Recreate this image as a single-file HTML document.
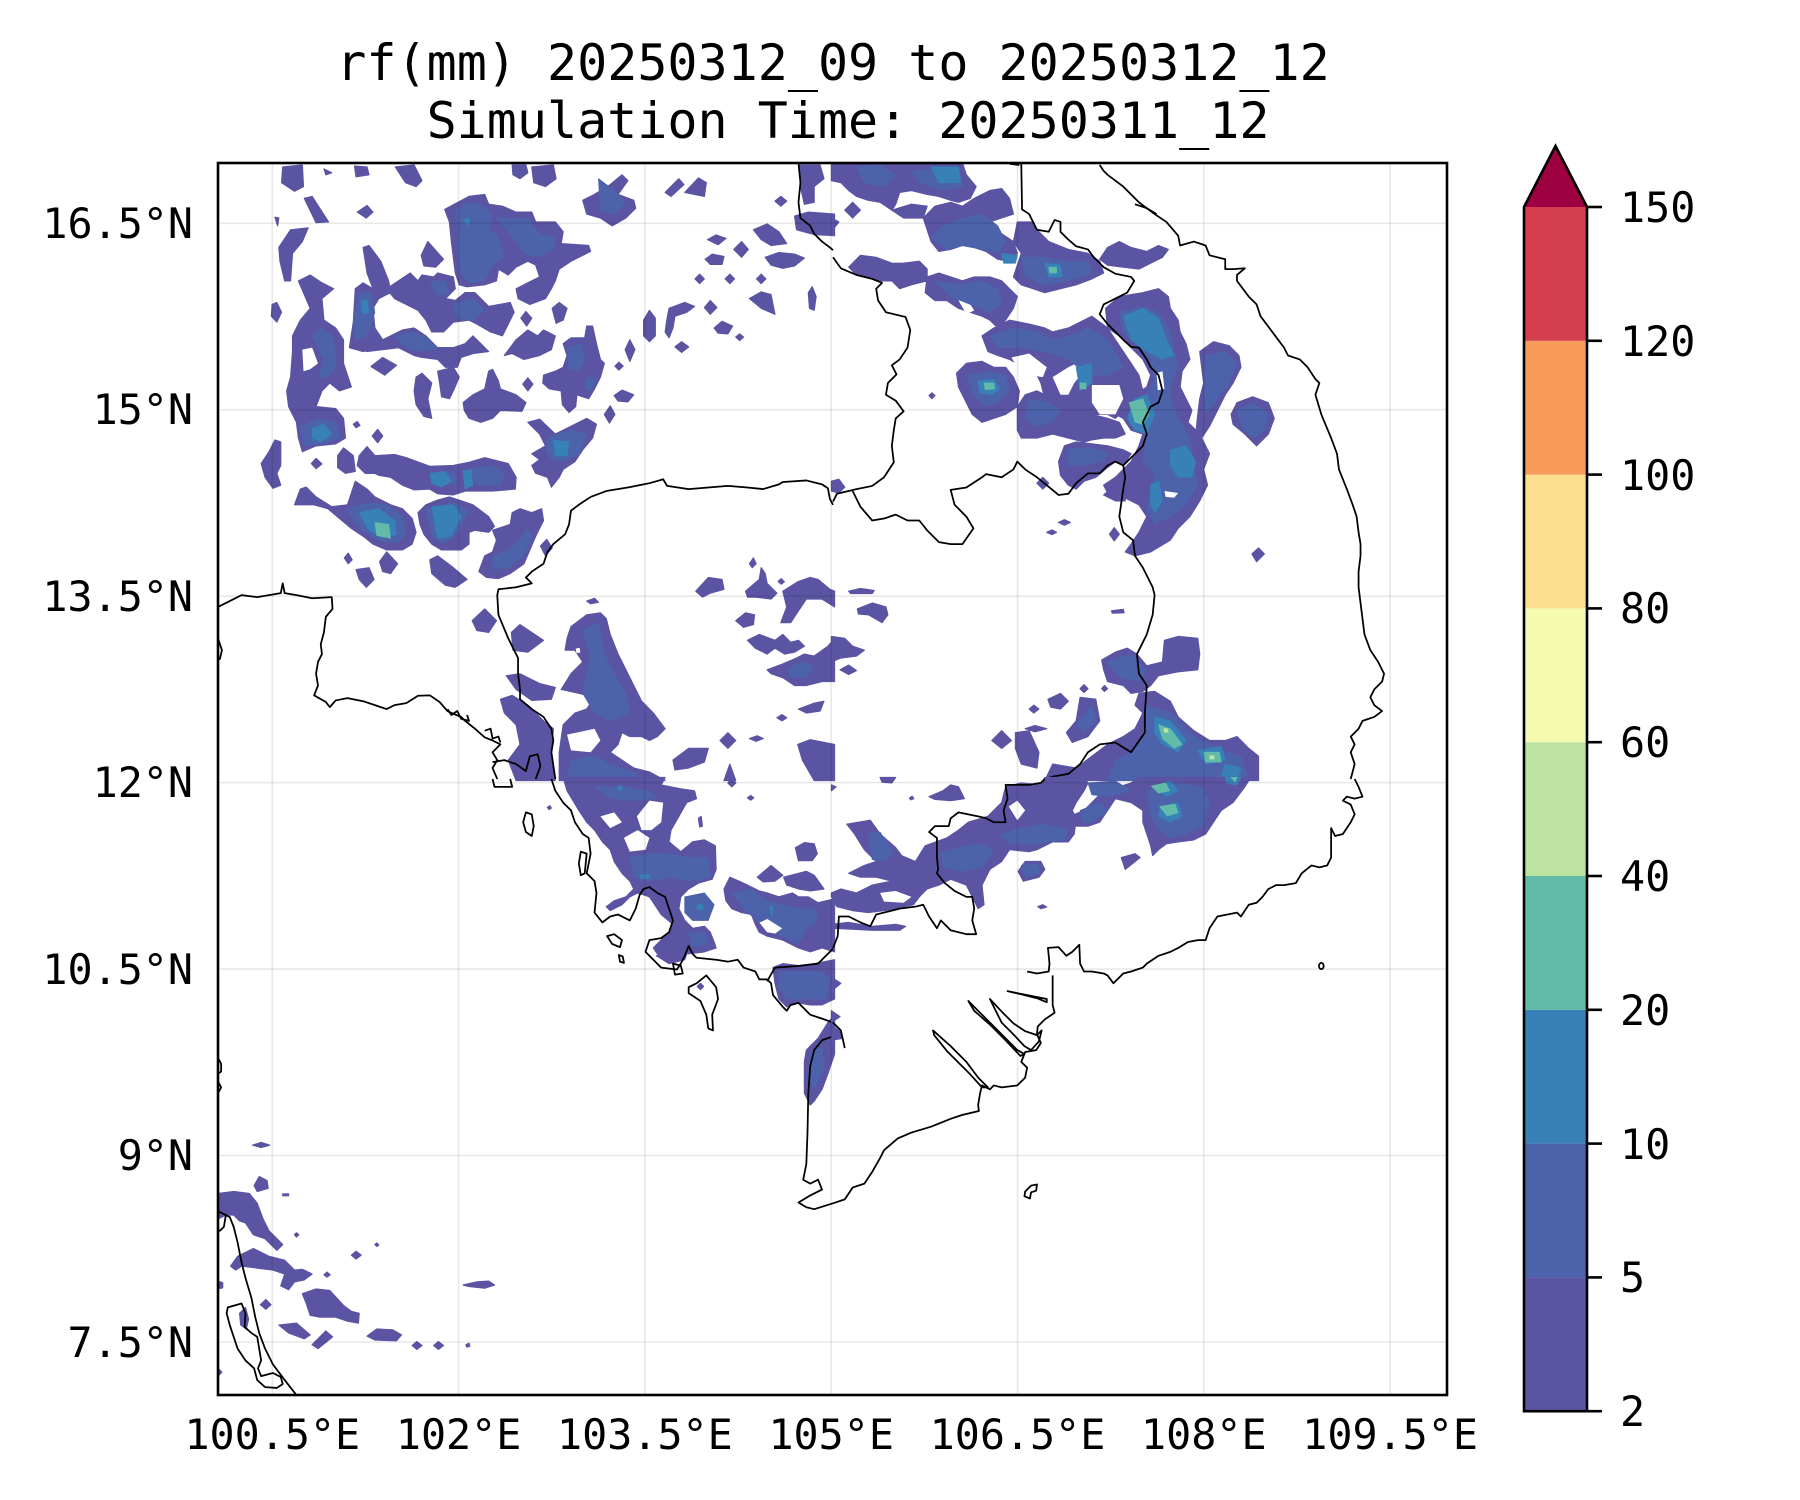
<!DOCTYPE html>
<html>
<head>
<meta charset="utf-8">
<style>
html,body{margin:0;padding:0;background:#fff;}
svg{display:block;}
text{font-family:"DejaVu Sans Mono","Liberation Mono",monospace;fill:#000;}
.f1{fill:#5b54a3;stroke:#5b54a3;stroke-width:3;stroke-linejoin:round;}
.f2{fill:#4c62aa;stroke:#4c62aa;stroke-width:2;stroke-linejoin:round;}
.f3{fill:#3880b8;stroke:#3880b8;stroke-width:2;stroke-linejoin:round;}
.f4{fill:#62bba8;stroke:#62bba8;stroke-width:2;stroke-linejoin:round;}
.f5{fill:#bce3a0;}
.fw{fill:#fff;}
</style>
</head>
<body>
<svg width="1800" height="1500" viewBox="0 0 1800 1500" xmlns="http://www.w3.org/2000/svg">
<defs>
<clipPath id="pc"><rect x="218" y="163" width="1229" height="1232"/></clipPath>
</defs>
<rect x="0" y="0" width="1800" height="1500" fill="#fff"/>

<!-- Title -->
<text x="833" y="80" font-size="50" text-anchor="middle">rf(mm) 20250312_09 to 20250312_12</text>
<text x="848" y="138" font-size="50" text-anchor="middle">Simulation Time: 20250311_12</text>

<g clip-path="url(#pc)">
<!-- Q1 NW -->
<g transform="translate(218,163) scale(0.39222,0.39286)">
<path class="f1" d="M165,10 215,5 218,60 195,72 162,50Z M348,8 380,10 385,30 352,35Z M452,10 500,5 520,45 505,60 478,50Z M750,5 785,5 790,25 770,40 752,30Z M800,10 855,5 862,40 835,60 805,50Z M220,90 240,85 282,150 250,152Z M355,125 380,108 395,125 378,140Z M145,138 155,140 152,160Z M270,15 290,25 275,30Z
M930,95 960,80 1000,55 1030,30 1045,45 1020,80 1060,95 1065,115 1040,140 1005,160 975,140 940,130Z M1140,75 1175,40 1188,55 1155,85Z M1190,75 1225,38 1245,50 1240,85Z M1420,97 1435,85 1450,97 1435,110Z M1482,5 1535,5 1545,40 1520,60 1520,100 1495,105 1485,60Z M1470,135 1505,125 1572,130 1572,185 1520,182 1475,170Z M1365,170 1400,155 1430,175 1450,205 1410,210 1385,195Z M1248,195 1270,183 1295,192 1275,208Z M1315,220 1335,200 1352,220 1335,240Z M1242,245 1260,232 1290,238 1285,258 1255,258Z M1395,240 1430,228 1470,232 1495,242 1470,262 1440,268 1410,260Z
M1216,295 1228,283 1240,295 1228,307Z M1293,295 1305,283 1317,295 1305,307Z M1373,295 1385,283 1397,295 1385,307Z M1355,345 1385,328 1410,335 1420,385 1385,370Z M1505,330 1515,315 1525,340 1520,375 1508,370Z M1240,368 1255,350 1272,368 1255,385Z M1150,370 1190,355 1215,365 1195,380 1165,390 1160,420 1150,445 1140,430 1145,395Z M1085,400 1100,375 1115,395 1115,440 1100,455 1085,440Z M1265,420 1285,403 1312,415 1300,435 1275,433Z M1320,443 1330,435 1340,443 1330,452Z M1165,468 1182,455 1200,468 1182,482Z M1038,475 1050,450 1063,475 1050,505Z M1012,517 1022,507 1033,517 1022,527Z M1010,592 1030,578 1060,590 1045,608 1020,606Z M985,640 1000,618 1012,640 998,662Z
M790,660 820,652 860,690 900,670 940,650 965,665 955,700 930,730 910,760 880,780 870,800 850,825 840,800 810,790 800,770 820,755 800,740 835,720 820,690Z
M155,215 185,170 230,165 215,200 190,230 185,300 170,300 158,250Z
M205,300 235,285 265,305 295,320 265,345 270,400 300,420 320,450 320,510 340,570 310,580 285,560 265,580 250,620 300,625 320,650 325,700 300,715 250,720 215,735 205,700 200,660 180,620 175,580 185,545 190,480 190,440 210,400 235,370 220,335Z
M138,360 150,355 162,380 150,405 136,390Z M110,765 130,735 145,705 160,710 160,770 150,790 160,820 140,828 120,800Z M238,765 250,752 265,766 250,778Z
M335,470 345,405 350,320 370,305 395,320 380,280 370,215 385,210 415,250 435,300 440,330 410,345 395,370 400,420 420,450 400,470 370,480Z
M430,320 460,300 490,280 510,300 520,285 550,290 560,280 580,285 600,290 605,320 580,345 605,350 630,330 655,330 690,365 745,355 755,380 725,440 695,430 660,410 640,400 600,405 575,430 545,430 530,400 510,375 480,360 450,345Z
M345,470 420,450 470,425 500,420 530,440 560,470 600,470 630,460 650,440 670,460 690,480 650,485 620,495 610,520 580,520 560,500 520,495 500,490 460,470 420,475 380,480Z
M390,518 420,495 455,515 425,540Z
M505,545 520,535 545,560 535,600 545,650 525,645 505,615 500,580Z M560,530 600,520 615,545 600,580 590,600 570,595 565,560Z
M625,610 650,590 680,575 690,530 700,525 715,555 720,575 760,590 785,610 775,632 720,630 700,650 670,660 640,650 628,630Z
M518,235 535,200 575,245 555,265 525,262Z
M578,118 640,85 680,80 690,105 725,110 760,125 800,125 810,150 860,150 880,175 875,205 945,210 950,225 900,250 870,270 860,300 850,320 835,345 795,360 765,345 760,320 790,305 820,290 810,260 790,250 760,265 740,285 715,270 710,300 680,310 635,315 615,310 605,280 600,240 595,200 590,150Z
M730,490 760,450 790,425 815,440 830,425 860,440 850,475 820,490 780,500 750,485Z M772,395 785,378 800,395 787,415Z M852,370 870,355 890,370 880,400 862,408Z
M880,460 900,445 935,445 940,415 955,415 965,460 975,500 985,510 975,545 960,575 945,600 915,590 912,620 895,635 878,615 875,580 845,575 828,560 830,540 860,530 880,520 890,490Z
M777,563 790,547 803,563 790,580Z M393,695 407,678 420,695 407,712Z M345,665 355,658 362,668 352,674Z M305,745 320,725 345,745 350,785 325,790 305,775Z
M360,745 380,722 400,745 450,742 480,750 540,772 600,770 640,762 680,750 740,765 760,800 758,830 700,835 660,835 630,835 600,845 560,842 540,830 500,832 470,820 440,800 410,795 400,790 375,790 355,770Z
M195,870 210,830 225,825 250,850 290,875 330,870 340,840 350,810 380,830 400,850 440,870 470,880 495,905 505,940 495,970 470,985 430,985 395,970 370,950 340,930 310,905 280,880 245,870Z
M510,890 530,870 560,858 590,850 620,860 650,870 690,900 705,925 690,940 655,935 640,940 640,970 620,985 570,985 545,970 525,945 515,920Z
M665,1040 680,1000 700,990 710,960 700,935 715,930 745,920 750,890 770,880 800,890 825,880 830,910 810,950 795,985 780,1020 745,1045 715,1058 685,1055Z
M540,1010 560,1000 600,1030 635,1060 605,1080 580,1075 545,1045Z M412,1015 430,990 458,1020 440,1045 420,1040Z M352,1035 385,1030 398,1060 378,1080 360,1060Z M322,1005 332,993 342,1010 332,1020Z M822,975 838,958 852,980 835,1000Z
M648,1165 680,1135 710,1165 690,1195 660,1190Z M748,1195 770,1175 830,1215 790,1245 752,1240Z M940,1115 960,1108 970,1118 950,1122Z
M900,1180 940,1150 975,1145 990,1160 1000,1200 1020,1250 1040,1290 1060,1330 1080,1370 1110,1400 1140,1440 1120,1460 1100,1470 1080,1460 1050,1460 1030,1450 1020,1480 1000,1500 1030,1520 1060,1540 1100,1550 1140,1572 870,1572 870,1500 880,1430 910,1400 940,1390 960,1360 920,1350 875,1340 900,1300 930,1270 910,1240 885,1240 890,1210Z
M735,1305 770,1300 820,1325 860,1335 850,1365 800,1368 760,1340Z
M720,1365 750,1355 790,1380 830,1420 855,1440 850,1500 860,1572 760,1572 740,1520 770,1480 760,1430 730,1400Z
M1160,1520 1200,1490 1250,1490 1240,1525 1200,1540 1165,1545Z M1280,1470 1300,1450 1320,1470 1300,1490Z M1355,1465 1375,1458 1390,1465 1372,1472Z M1425,1412 1438,1404 1450,1412 1438,1420Z M1480,1390 1520,1375 1545,1370 1535,1395 1500,1400Z M1478,1480 1510,1468 1572,1480 1572,1572 1520,1572 1490,1520Z M1290,1572 1305,1530 1320,1572Z
M1218,1090 1250,1055 1285,1060 1290,1085 1255,1095 1235,1105Z M1320,1165 1345,1145 1368,1150 1365,1175 1340,1182Z M1345,1090 1380,1060 1385,1030 1395,1045 1400,1070 1425,1095 1410,1110 1370,1105 1350,1105Z M1355,1020 1365,1005 1372,1020 1362,1030Z
M1440,1090 1480,1065 1510,1055 1530,1060 1560,1085 1572,1090 1572,1130 1540,1110 1500,1110 1480,1140 1460,1170 1435,1170 1450,1130Z
M1350,1215 1380,1200 1420,1215 1440,1200 1460,1220 1480,1215 1495,1230 1470,1245 1445,1250 1420,1235 1400,1250 1370,1235Z
M1400,1290 1440,1275 1475,1260 1495,1250 1520,1255 1555,1230 1572,1210 1572,1320 1540,1320 1500,1330 1470,1330 1440,1310 1410,1300Z M1428,1065 1436,1058 1444,1066 1436,1072Z"/>
<path class="fw" d="M660,140 680,138 692,175 665,188Z M215,475 240,470 255,510 235,525 218,530Z M890,1455 960,1440 975,1470 950,1500 900,1495Z M912,1236 922,1234 924,1246 914,1248Z"/>
<path class="f2" d="M605,120 640,100 680,110 700,140 690,170 710,180 730,240 700,260 680,300 640,305 620,280 610,230 610,170Z M710,140 790,140 820,180 860,190 855,220 820,240 780,230 760,200Z M360,330 390,330 400,380 380,440 350,450 345,400Z M450,440 500,430 540,450 560,470 520,480 480,470Z M540,300 580,300 590,330 560,340Z M600,360 650,345 680,375 650,400 610,395Z M240,440 260,420 290,440 300,480 300,520 280,545 255,545 270,500 250,460Z M210,670 260,650 300,660 310,700 260,715 220,720Z M840,700 900,680 940,690 920,740 880,760 850,755 835,730Z M890,470 925,460 935,500 920,530 895,525Z M940,545 965,550 950,580 935,575Z M330,880 380,865 430,870 470,900 480,940 460,965 430,965 400,955 370,935 345,910Z M530,880 600,865 640,885 620,920 600,955 570,970 545,950Z M700,1000 740,985 770,960 790,930 800,950 780,1000 740,1030 700,1035Z M640,780 700,770 730,790 720,820 660,820Z M540,790 600,785 610,815 560,820Z M930,1190 970,1170 985,1250 1010,1300 1040,1350 1050,1400 1000,1420 960,1400 930,1350 940,1300 950,1250Z M900,1520 960,1510 1000,1530 1060,1550 1080,1572 890,1572Z M970,40 1010,70 1040,100 1010,130 975,120Z M1455,1285 1490,1270 1520,1280 1500,1310 1460,1310Z"/>
<path class="f3" d="M240,675 270,665 290,690 260,710 240,700Z M360,890 410,880 450,910 455,945 420,955 385,935Z M545,875 600,870 620,900 595,950 560,955Z M855,705 895,710 890,745 860,745Z M540,790 580,785 595,810 570,825 545,815Z M625,785 645,780 650,820 630,830Z M625,145 640,140 640,160Z M365,350 380,350 385,380 370,385Z"/>
<path class="f4" d="M400,915 435,920 440,955 405,948Z"/>
<g fill="none" stroke="#000" stroke-width="4.5" stroke-linejoin="round">
<path d="M1480,0 1485,50 1480,100 1485,140 1510,160 1520,180 1540,200 1560,215 1568,222"/>
<path d="M1568,870 1560,855 1555,828 1540,818 1500,808 1470,810 1440,812 1430,818 1390,830 1350,826 1300,822 1250,826 1200,830 1145,822 1135,805 1125,808 1100,815 1050,825 990,835 950,850 920,870 900,885 895,920 885,945 855,970 840,990 830,1020 800,1040 785,1055 800,1070 760,1080 715,1085 712,1100 715,1150 740,1210 765,1260 765,1300 770,1340 770,1365 800,1390 830,1410 850,1440 855,1470 850,1500 860,1568"/>
<path d="M0,1130 30,1115 60,1100 100,1105 130,1100 160,1095 165,1070 170,1095 200,1100 240,1108 290,1105 292,1135 275,1155 270,1195 262,1225 265,1250 255,1270 250,1300 255,1330 245,1355 275,1372 285,1385 300,1368 330,1362 370,1370 400,1380 430,1390 450,1380 480,1375 510,1356 540,1355 565,1372 585,1395 600,1402 620,1410 630,1420 655,1440 680,1462 700,1470 720,1480 700,1500 712,1520 700,1540 712,1568"/>
<path d="M585,1390 595,1405 610,1395 620,1415 640,1420 635,1405 M680,1445 695,1440 700,1465 715,1460 720,1475"/>
<path d="M700,1525 730,1520 760,1530 785,1548 795,1510 815,1505 822,1535 810,1568"/>
<path d="M0,1210 10,1240 5,1262 0,1265"/>
</g>
</g>

<!-- Q2 NE -->
<g transform="translate(833,163) scale(0.39222,0.39286)">
<path class="f1" d="M-4,0 330,0 340,30 365,60 350,90 320,100 300,95 270,85 240,80 200,70 170,75 160,105 150,120 120,100 90,95 60,85 40,70 20,50 -4,45Z M150,120 200,105 240,110 230,140 180,140Z M30,120 50,100 70,120 50,140Z M-4,140 15,150 -4,175Z
M230,140 260,110 300,100 330,110 360,90 400,70 430,65 450,90 460,130 430,140 400,150 430,180 460,200 470,230 450,250 420,245 390,225 360,215 330,210 300,220 270,225 250,200 240,170Z
M470,150 510,150 520,170 550,200 600,220 650,230 680,250 690,280 660,295 620,310 580,320 540,330 510,320 480,310 460,290 470,260 480,230 460,200Z
M680,245 700,215 730,200 760,215 800,225 830,210 855,220 840,240 800,260 780,270 740,265 700,260Z
M40,265 70,235 110,240 150,255 180,255 220,250 240,270 240,300 200,310 170,320 150,300 120,300 90,290 60,285Z
M235,330 240,290 270,280 300,290 330,300 360,290 400,290 430,300 450,320 470,340 460,370 440,400 420,420 400,400 380,390 350,380 320,370 290,350 260,350Z
M380,440 410,420 450,400 500,410 540,420 560,430 600,420 640,400 660,390 700,420 720,450 740,480 760,510 780,540 790,580 760,600 740,630 720,650 700,640 670,640 640,660 600,650 580,640 560,610 540,600 530,560 520,540 490,530 470,510 450,500 420,490 395,480Z
M315,535 340,510 380,505 410,520 440,520 460,545 475,580 470,620 440,640 410,650 380,660 355,640 335,600 320,570Z
M470,620 490,590 520,580 560,600 590,620 620,640 660,640 700,650 730,660 745,690 720,700 690,700 660,705 640,710 600,700 560,690 520,700 480,700 470,680Z
M575,760 590,720 620,710 660,715 700,720 740,730 760,740 740,770 720,760 700,775 670,800 640,810 620,830 600,820 580,795Z
M690,845 720,820 745,810 745,860 720,860Z
M695,370 730,340 790,330 830,320 855,340 860,370 880,400 885,430 900,460 910,500 890,530 885,570 900,600 915,630 905,660 935,690 960,740 945,780 955,820 935,860 910,900 880,930 860,960 810,990 770,1000 745,990 760,970 780,940 800,900 780,870 740,850 700,840 690,820 720,800 740,780 760,760 780,720 790,690 760,680 740,650 720,640 740,610 770,590 800,570 810,540 790,500 760,470 730,440 700,420Z
M935,480 970,455 1010,465 1035,490 1040,520 1020,560 1000,590 980,630 960,670 940,700 925,690 930,640 935,600 945,560 940,520Z
M1015,640 1030,610 1070,595 1110,610 1125,650 1110,690 1080,720 1050,690 1020,665Z
M1068,995 1085,980 1100,995 1080,1015Z M40,1090 70,1083 105,1088 100,1096 45,1096Z M62,1135 100,1120 135,1130 140,1150 125,1170 90,1150 65,1148Z M-4,1205 30,1210 50,1230 80,1240 60,1255 20,1260 -4,1270Z M18,1290 40,1278 60,1292 40,1302Z M710,1140 740,1136 742,1145 712,1146Z M705,945 717,928 730,945 717,962Z M575,915 590,908 605,915 590,922Z M545,940 558,934 570,940 558,946Z M-4,810 15,805 30,825 15,840 -4,835Z M520,815 535,800 550,815 535,830Z M245,592 252,585 260,592 252,600Z
M685,1265 720,1245 750,1235 775,1250 800,1280 840,1270 845,1215 880,1205 930,1210 935,1250 930,1290 880,1295 830,1305 810,1330 790,1345 760,1350 740,1330 700,1320 690,1290Z
M630,1360 670,1365 680,1420 650,1460 610,1475 595,1450 620,1420Z M405,1470 430,1445 455,1470 430,1490Z M465,1450 500,1445 525,1500 520,1540 480,1530 465,1490Z M490,1440 515,1432 545,1440 515,1448Z M500,1390 512,1380 525,1390 512,1400Z M548,1365 580,1350 600,1370 580,1390 555,1385Z M630,1338 640,1328 650,1338 640,1348Z M685,1338 692,1330 700,1338 692,1345Z
M780,1350 820,1345 860,1370 880,1410 920,1445 960,1470 1000,1470 1030,1460 1060,1490 1085,1510 1085,1572 540,1572 560,1530 620,1540 660,1510 700,1480 740,1460 770,1440 790,1400 770,1380Z"/>
<path class="fw" d="M320,350 340,345 360,375 340,385Z M455,495 500,485 545,520 535,545 500,540 470,520Z M560,545 600,520 630,505 640,530 615,560 600,590 580,590Z M660,565 730,565 740,600 720,640 680,640 660,610Z M825,535 840,530 845,575 828,578Z M845,835 880,840 870,852 848,850Z"/>
<path class="f2" d="M250,190 280,160 330,140 380,130 420,160 440,200 420,230 380,220 330,210 290,220Z M60,10 120,5 160,30 130,60 80,50Z M200,20 320,10 330,60 280,70 220,50Z M480,240 540,240 600,250 650,250 660,280 600,300 540,310 490,290Z M260,300 320,310 380,300 420,320 430,360 400,380 350,360 300,340Z M400,440 460,420 520,430 560,450 600,440 650,420 690,440 720,480 740,520 700,540 650,540 600,500 540,480 480,470 420,470Z M340,540 400,530 440,540 450,580 420,610 390,620 360,590Z M500,600 550,610 580,630 560,660 520,670 490,650Z M600,730 650,725 700,735 690,760 640,770 600,770Z
M730,380 790,365 830,380 860,430 870,480 880,520 860,560 860,600 880,650 910,700 920,760 930,820 900,870 860,900 820,920 800,880 810,830 820,790 790,760 800,700 820,640 800,590 820,550 810,500 770,460 740,430Z
M950,490 1000,480 1030,510 1010,560 980,600 950,640 945,560Z M1030,630 1070,610 1110,640 1100,680 1075,700 1045,680Z M800,1380 860,1400 920,1460 980,1490 1040,1510 1060,1572 700,1572 720,1520 760,1500 790,1460Z M700,1270 760,1250 800,1290 780,1320 730,1310Z M660,1380 670,1420 640,1450 620,1430Z"/>
<path class="fw" d="M825,535 840,530 845,575 828,578Z M845,835 880,840 870,852 848,850Z"/>
<path class="f3" d="M740,390 790,370 830,395 850,450 870,490 840,500 800,480 760,450Z M770,600 800,590 820,640 800,690 770,680 750,650Z M860,730 900,720 925,760 915,800 880,800 860,770Z M810,820 830,810 840,860 820,890 810,870Z M820,1410 860,1420 900,1470 880,1500 840,1480 820,1450Z M930,1495 990,1485 1000,1520 950,1530Z M250,10 320,10 325,50 270,50Z M430,230 470,235 465,255 435,255Z M540,255 580,260 585,290 550,290Z M620,520 660,510 660,560 630,580Z M370,555 410,550 425,575 405,590 375,585Z M1000,1530 1040,1540 1030,1572 990,1560Z"/>
<path class="f4" d="M755,610 790,600 805,640 790,665 770,660Z M385,560 410,560 412,575 388,577Z M830,1430 860,1440 890,1480 870,1490 840,1465Z M945,1500 985,1500 990,1525 950,1525Z M550,265 570,265 570,280 552,280Z M630,560 645,560 645,575 630,575Z"/>
<path class="f5" d="M842,1440 852,1438 856,1450 844,1450Z M960,1508 972,1508 972,1518 960,1518Z"/>
<g fill="none" stroke="#000" stroke-width="4.5" stroke-linejoin="round">
<path d="M0,240 20,268 60,285 100,295 125,305 110,320 115,350 135,380 185,392 197,425 190,470 170,500 150,515 162,538 140,560 135,590 160,605 180,632 160,650 155,680 150,720 155,762 130,800 100,822 60,830 40,835 10,842 0,862"/>
<path d="M50,835 70,875 100,910 130,905 160,895 190,910 220,910 240,935 270,965 300,970 330,970 358,930 340,900 310,870 300,832 340,826 380,800 390,792 430,800 460,780 470,760 490,780 520,800 545,820 575,845 600,842 620,815 650,790 680,790 700,770 720,760 740,770"/>
<path d="M740,770 770,740 790,720 800,690 790,660 810,620 830,610 840,580 830,540 810,520 800,500 780,470 760,468 740,450 720,430 700,410 680,385 690,360 720,345 750,330 768,300 760,290 720,282 690,265 665,240 650,220 620,212 600,195 580,175 580,150 565,145 550,175 520,170 510,150 500,130 482,118 480,0"/>
<path d="M740,770 745,800 740,830 730,900 740,940 765,960 770,1000 790,1030 815,1080 820,1100 815,1150 800,1200 775,1250 780,1300 800,1330 795,1400 795,1450 760,1500 720,1475 680,1480 650,1500 630,1530 600,1555 560,1562 540,1568"/>
<path d="M680,5 690,20 700,30 740,60 780,100 820,130 850,150 880,185 885,210 920,200 950,210 960,235 1000,245 1000,270 1020,270 1050,268 1030,285 1030,300 1060,340 1080,360 1090,390 1120,430 1150,470 1160,490 1190,500 1210,520 1230,550 1240,560 1230,590 1245,640 1270,700 1285,740 1290,780 1310,830 1325,870 1335,900 1340,940 1345,970 1345,1000 1340,1040 1340,1080 1345,1120 1350,1160 1355,1200 1370,1240 1390,1270 1405,1300 1400,1320 1380,1340 1370,1360 1380,1380 1400,1395 1380,1410 1350,1420 1340,1440 1320,1460 1330,1480 1320,1500 1330,1530 1320,1568"/>
<path d="M770,105 800,115 825,130 M450,2 475,5"/>
</g>
</g>

<!-- Q3 SW -->
<g transform="translate(218,779) scale(0.39222,0.39286)">
<path class="f1" d="M880,-4 1140,-4 1130,15 1180,25 1215,30 1220,50 1195,60 1175,95 1155,130 1150,160 1180,185 1210,160 1240,155 1268,170 1270,230 1260,255 1225,265 1200,280 1180,300 1175,330 1190,360 1210,380 1240,375 1255,390 1265,415 1270,430 1240,440 1200,445 1160,440 1120,445 1110,430 1130,410 1150,390 1160,370 1130,345 1100,300 1070,290 1050,300 1030,320 1000,335 990,325 1010,310 1040,300 1060,280 1050,260 1030,240 1010,210 1000,180 980,160 960,130 940,110 920,80 905,55 890,30Z
M1290,280 1305,250 1340,265 1380,285 1400,290 1430,300 1465,290 1480,300 1505,300 1530,315 1572,305 1572,440 1540,430 1510,440 1480,430 1440,410 1400,400 1380,390 1370,370 1360,345 1335,340 1310,330 1295,310Z
M1415,480 1440,470 1480,475 1520,470 1572,460 1572,560 1540,575 1510,575 1480,570 1450,580 1430,560 1420,520Z
M1375,250 1410,220 1440,245 1420,260 1390,262Z M1442,250 1500,235 1520,245 1545,280 1510,285 1480,280 1450,270Z M1472,175 1495,162 1520,165 1528,190 1515,208 1480,208Z
M1300,10 1310,-4 1320,10 1310,20Z M1350,48 1358,42 1366,48 1358,54Z
M1500,690 1530,660 1555,620 1572,600 1572,700 1555,750 1540,790 1520,820 1510,830 1495,800 1495,720Z
M1118,450 1150,435 1180,440 1200,430 1190,460 1150,470Z M1222,528 1230,520 1238,528 1230,536Z M1225,100 1232,95 1235,120 1228,122Z
M88,932 110,925 132,932 110,938Z M92,1035 105,1012 125,1022 128,1042 100,1050Z
M0,1055 40,1050 80,1055 100,1080 115,1120 130,1150 165,1185 150,1200 120,1170 90,1160 70,1130 55,1125 40,1110 20,1110 0,1120Z
M32,1240 50,1215 90,1195 130,1215 170,1225 195,1250 215,1248 240,1260 220,1275 195,1280 180,1300 160,1290 170,1260 140,1250 100,1245 60,1240 45,1250Z
M215,1310 250,1298 285,1302 320,1340 340,1355 360,1360 358,1385 330,1380 300,1370 260,1370 235,1365 225,1335Z
M155,1390 200,1385 235,1415 220,1425 180,1410Z M240,1440 275,1405 292,1420 255,1450Z M108,1338 122,1325 135,1338 122,1350Z M55,1360 70,1345 78,1375 72,1400 58,1390Z
M380,1418 405,1400 445,1402 468,1415 455,1430 400,1428Z M495,1442 507,1432 520,1442 507,1452Z M550,1442 562,1432 575,1442 562,1452Z M632,1440 640,1436 642,1444 634,1446Z
M625,1288 660,1280 690,1278 705,1288 680,1296 640,1292Z M340,1212 352,1202 365,1212 352,1222Z M270,1262 278,1255 286,1262 278,1268Z M195,1160 200,1155 206,1160 200,1166Z M400,1185 405,1181 410,1186 405,1190Z M165,1056 180,1056 180,1061 165,1061Z M0,1278 12,1282 12,1295 0,1298Z M0,1500 10,1510 0,1520Z M840,72 846,68 850,74 844,78Z"/>
<path class="fw" d="M1068,95 1100,55 1135,60 1130,110 1105,130 1080,130Z M1035,150 1070,130 1100,150 1090,180 1050,185Z M975,95 1010,85 1030,110 1000,125Z M1380,365 1400,355 1440,380 1430,395 1400,390Z"/>
<path class="f2" d="M960,20 1040,20 1100,30 1120,50 1060,55 1000,50Z M1050,200 1100,190 1150,190 1200,200 1250,200 1255,250 1200,260 1150,250 1100,260 1060,250Z M1190,300 1240,290 1265,320 1250,360 1210,360 1190,340Z M1310,290 1360,280 1400,310 1440,320 1480,330 1520,330 1530,360 1500,380 1480,420 1440,400 1420,395 1440,380 1400,355 1380,365 1340,330Z M1430,490 1480,490 1540,490 1560,510 1550,560 1500,560 1450,560 1430,530Z M1200,390 1240,390 1250,420 1210,425Z M1510,700 1540,680 1545,740 1520,790 1505,760Z"/>
<path class="f3" d="M1075,245 1100,243 1102,253 1078,253Z M1220,322 1235,318 1238,332 1222,332Z M1405,325 1415,325 1412,350Z M1020,18 1030,18 1030,28 1020,28Z"/>
<g fill="none" stroke="#000" stroke-width="4.5" stroke-linejoin="round">
<path d="M850,0 860,30 880,60 900,80 910,110 930,140 945,150 950,190 940,240 960,260 965,290 960,340 980,365 1000,350 1020,345 1050,360 1065,330 1075,295 1085,280 1100,275 1120,290 1140,300 1150,330 1160,360 1150,390 1130,405 1100,410 1090,440 1110,460 1130,480 1170,485 1180,470 1190,450 1200,425 1210,445 1220,455 1270,460 1300,465 1325,460 1340,480 1370,490 1380,510 1400,510 1410,520 1415,550 1440,580 1450,590 1460,575 1480,570 1510,600 1540,610 1568,620"/>
<path d="M1400,515 1420,480 1480,476 1530,470 1568,432"/>
<path d="M1568,655 1540,665 1520,690 1510,730 1505,800 1503,900 1500,980 1492,1020 1510,1030 1530,1020 1540,1045 1510,1060 1480,1078 1500,1090 1520,1095 1568,1080"/>
<path d="M785,85 800,90 805,120 800,145 785,135 778,110Z M925,185 940,190 935,240 925,245 920,215Z M992,400 1010,395 1030,410 1025,428 1005,420Z M1022,448 1032,452 1035,468 1025,465Z M1160,470 1180,475 1185,495 1165,498Z M1200,530 1220,520 1245,500 1270,530 1275,560 1260,600 1262,640 1250,635 1245,600 1230,565 1200,545Z"/>
<path d="M700,0 705,20 750,20 745,0 M0,710 8,725 8,745 0,750 M0,770 8,785 0,800"/>
<path d="M20,1110 30,1115 40,1140 50,1180 60,1230 70,1270 85,1320 95,1370 105,1410 120,1450 140,1490 170,1530 200,1568"/>
<path d="M0,1100 20,1110 15,1140 5,1150 0,1148"/>
<path d="M25,1345 60,1335 70,1360 68,1395 85,1410 100,1420 105,1450 110,1480 102,1500 110,1520 140,1512 160,1522 165,1540 150,1550 120,1548 100,1530 92,1500 70,1480 50,1450 40,1420 30,1390 22,1360Z"/>
</g>
</g>

<!-- Q4 SE -->
<g transform="translate(833,779) scale(0.39222,0.39286)">
<path class="f1" d="M35,115 95,105 120,140 160,175 175,195 210,210 235,170 290,150 320,130 345,110 395,95 430,60 440,20 480,10 530,15 540,-4 640,-4 650,10 640,30 620,60 610,80 620,100 615,140 600,160 560,160 520,180 500,185 450,180 430,210 400,230 380,270 385,320 370,330 350,290 340,270 300,255 270,270 240,280 220,300 205,320 160,330 130,335 90,340 50,335 10,325 -4,300 -4,290 20,280 60,290 100,270 150,260 110,250 70,250 40,240 80,220 110,210 80,180 55,140Z
M-4,370 40,365 100,375 160,370 185,375 170,385 100,385 40,382 -4,380Z M472,235 490,210 530,210 540,230 525,250 485,260Z M735,200 770,190 783,200 745,230Z M245,45 280,30 300,15 320,20 335,50 300,55 260,52Z M195,48 202,44 206,50 198,53Z M522,325 535,320 545,326 530,330Z
M605,95 640,80 660,60 680,40 710,30 730,20 760,10 780,-4 1065,-4 1050,20 1020,60 990,80 970,110 950,140 920,155 880,160 850,165 830,180 815,195 810,170 800,140 790,110 790,80 760,60 720,50 700,80 680,110 650,120 620,120Z
M-4,505 20,520 -4,540Z M-4,590 18,605 -4,620Z M-4,625 15,640 25,660 -4,665Z M120,-4 160,-4 150,10 125,8Z M-4,15 8,20 -4,30Z"/>
<path class="fw" d="M448,70 470,55 490,80 470,105Z M120,290 160,285 200,300 180,315 130,312Z M918,16 930,20 925,28 915,24Z"/>
<path class="f2" d="M90,140 120,135 155,190 130,210 100,205Z M275,190 330,170 380,165 410,180 380,225 330,235 280,225Z M425,145 470,125 540,115 600,130 590,155 520,165 450,165Z M650,10 720,5 760,30 700,45 660,40Z M800,30 870,10 940,20 960,60 940,120 900,140 860,150 830,130 810,90Z M630,80 680,60 700,80 660,110 635,110Z M480,220 520,215 530,240 490,250Z"/>
<path class="f3" d="M820,20 860,5 880,30 850,45Z M835,70 880,60 890,95 860,110 830,95Z M1000,-4 1040,-4 1030,15 1005,12Z"/>
<path class="f4" d="M812,18 848,10 858,30 830,36Z M833,70 872,64 880,86 852,94Z M1015,-4 1030,-4 1025,8Z"/>
<g fill="none" stroke="#000" stroke-width="4.5" stroke-linejoin="round">
<path d="M540,0 530,10 500,15 460,15 440,15 445,50 435,80 440,110 410,110 390,100 370,95 345,90 320,85 300,100 295,120 260,120 245,135 265,150 265,200 268,230 265,240 285,265 310,285 340,300 355,300 360,330 355,360 365,395 340,395 300,385 285,370 275,360 265,380 245,350 230,320 210,325 170,330 130,340 110,345 95,375 70,365 40,350 15,350 12,400 0,430"/>
<path d="M1330,0 1340,20 1350,45 1330,50 1310,45 1300,55 1320,65 1330,90 1320,110 1300,140 1280,145 1270,125 1270,160 1270,200 1260,220 1240,225 1220,220 1195,240 1180,265 1150,270 1130,270 1110,280 1095,300 1080,315 1060,320 1040,350 1030,340 980,350 960,380 950,410 930,410 905,415 880,430 860,440 830,450 800,470 790,480 760,490 740,495 715,520 700,500 690,495 660,490 640,490 630,470 628,422 610,440 595,450 575,428 548,430 552,470 550,490 520,495 495,490"/>
<path d="M560,500 560,540 560,575 565,595 540,612 522,630 520,650 530,672 518,690 490,695 480,720 495,735 490,760 470,780 430,785 410,780 400,790 380,780 375,800 370,830 372,845 330,855 300,865 250,885 200,900 165,915 130,945 120,965 100,1000 80,1030 50,1040 30,1070 0,1080"/>
<path d="M445,540 480,548 520,558 545,568 545,560 505,552Z M400,560 430,592 460,622 490,642 520,652 532,640 525,668 505,690 488,680 460,650 430,620Z M345,565 380,600 430,650 470,690 488,700 478,705 440,665 400,625 360,590Z M255,640 300,680 340,720 370,760 395,785 380,785 350,752 320,722 290,692 258,652Z"/>
<path d="M490,1050 505,1035 520,1032 518,1048 505,1052 502,1068 488,1062Z"/>
<ellipse cx="1245" cy="476" rx="6" ry="8"/>
<path d="M0,620 20,640 30,685"/>
</g>
</g>

<!-- gridlines -->
<g stroke="#000" stroke-opacity="0.09" stroke-width="1.6">
<line x1="272.3" y1="163" x2="272.3" y2="1395"/>
<line x1="458.6" y1="163" x2="458.6" y2="1395"/>
<line x1="644.9" y1="163" x2="644.9" y2="1395"/>
<line x1="831.2" y1="163" x2="831.2" y2="1395"/>
<line x1="1017.5" y1="163" x2="1017.5" y2="1395"/>
<line x1="1203.8" y1="163" x2="1203.8" y2="1395"/>
<line x1="1390.1" y1="163" x2="1390.1" y2="1395"/>
<line x1="218" y1="223.3" x2="1447" y2="223.3"/>
<line x1="218" y1="409.7" x2="1447" y2="409.7"/>
<line x1="218" y1="596.2" x2="1447" y2="596.2"/>
<line x1="218" y1="782.6" x2="1447" y2="782.6"/>
<line x1="218" y1="969.1" x2="1447" y2="969.1"/>
<line x1="218" y1="1155.5" x2="1447" y2="1155.5"/>
<line x1="218" y1="1342" x2="1447" y2="1342"/>
</g>
</g>

<!-- frame -->
<rect x="218" y="163" width="1229" height="1232" fill="none" stroke="#000" stroke-width="2.6"/>

<!-- y labels -->
<g font-size="41.7" text-anchor="end">
<text x="193" y="238">16.5°N</text>
<text x="193" y="424">15°N</text>
<text x="193" y="611">13.5°N</text>
<text x="193" y="797">12°N</text>
<text x="193" y="984">10.5°N</text>
<text x="193" y="1170">9°N</text>
<text x="193" y="1357">7.5°N</text>
</g>
<!-- x labels -->
<g font-size="41.7" text-anchor="middle">
<text x="272.3" y="1449">100.5°E</text>
<text x="458.6" y="1449">102°E</text>
<text x="644.9" y="1449">103.5°E</text>
<text x="831.2" y="1449">105°E</text>
<text x="1017.5" y="1449">106.5°E</text>
<text x="1203.8" y="1449">108°E</text>
<text x="1390.1" y="1449">109.5°E</text>
</g>

<!-- colorbar -->
<g>
<rect x="1524" y="1277.4" width="63" height="133.8" fill="#5b54a3"/>
<rect x="1524" y="1143.6" width="63" height="133.8" fill="#4c62aa"/>
<rect x="1524" y="1009.8" width="63" height="133.8" fill="#3880b8"/>
<rect x="1524" y="876" width="63" height="133.8" fill="#62bba8"/>
<rect x="1524" y="742.2" width="63" height="133.8" fill="#bce3a0"/>
<rect x="1524" y="608.4" width="63" height="133.8" fill="#f4faae"/>
<rect x="1524" y="474.6" width="63" height="133.8" fill="#fbdf8e"/>
<rect x="1524" y="340.8" width="63" height="133.8" fill="#f99b5a"/>
<rect x="1524" y="207" width="63" height="133.8" fill="#d53e4f"/>
<polygon points="1524,207 1555.5,146 1587,207" fill="#9e0142"/>
<path d="M1524,1411.2 L1524,207 L1555.5,146 L1587,207 L1587,1411.2 Z" fill="none" stroke="#000" stroke-width="2.6"/>
<g stroke="#000" stroke-width="2.6">
<line x1="1587" y1="207" x2="1602" y2="207"/>
<line x1="1587" y1="340.8" x2="1602" y2="340.8"/>
<line x1="1587" y1="474.6" x2="1602" y2="474.6"/>
<line x1="1587" y1="608.4" x2="1602" y2="608.4"/>
<line x1="1587" y1="742.2" x2="1602" y2="742.2"/>
<line x1="1587" y1="876" x2="1602" y2="876"/>
<line x1="1587" y1="1009.8" x2="1602" y2="1009.8"/>
<line x1="1587" y1="1143.6" x2="1602" y2="1143.6"/>
<line x1="1587" y1="1277.4" x2="1602" y2="1277.4"/>
<line x1="1587" y1="1411.2" x2="1602" y2="1411.2"/>
</g>
<g font-size="41.7">
<text x="1620" y="222">150</text>
<text x="1620" y="356">120</text>
<text x="1620" y="490">100</text>
<text x="1620" y="623">80</text>
<text x="1620" y="757">60</text>
<text x="1620" y="891">40</text>
<text x="1620" y="1025">20</text>
<text x="1620" y="1159">10</text>
<text x="1620" y="1292">5</text>
<text x="1620" y="1426">2</text>
</g>
</g>
</svg>
</body>
</html>
